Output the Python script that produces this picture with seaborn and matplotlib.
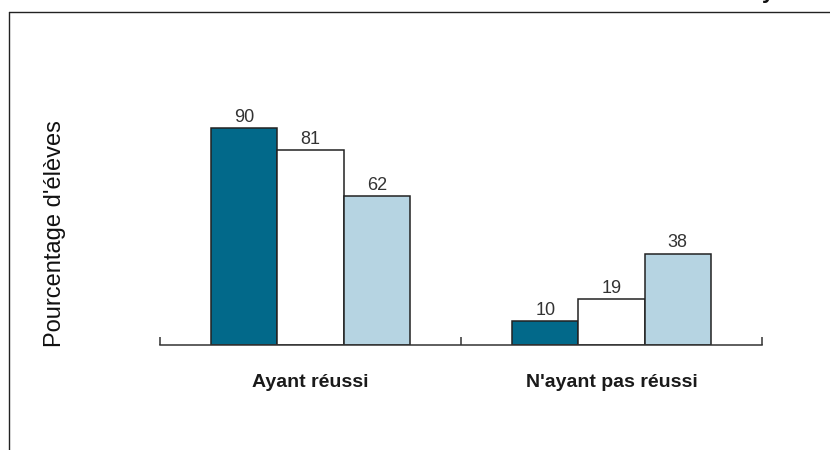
import matplotlib
matplotlib.use('Agg')
import matplotlib.pyplot as plt
from matplotlib.lines import Line2D
from matplotlib.ticker import FixedLocator
import pandas as pd
import seaborn as sns

# data
categories = ['Ayant réussi', "N'ayant pas réussi"]
series = ['Série 1', 'Série 2', 'Série 3']
serie_1 = [90, 10]
serie_2 = [81, 19]
serie_3 = [62, 38]
colors = ['#02698a', '#ffffff', '#b6d4e2']

rows = []
for s, vals in zip(series, [serie_1, serie_2, serie_3]):
    for c, v in zip(categories, vals):
        rows.append({'Catégorie': c, 'Série': s, 'Pourcentage': v})
df = pd.DataFrame(rows)

sns.set_style('white')
plt.rcParams['font.family'] = ['Liberation Sans', 'DejaVu Sans']

fig = plt.figure(figsize=[8.3, 4.5], dpi=100)
ax = fig.add_axes([160/830, 105/450, 602/830, 313/450])

sns.barplot(data=df, x='Catégorie', y='Pourcentage', hue='Série', order=categories,
            hue_order=series, palette=colors, width=0.66, edgecolor='#222222',
            linewidth=1.1, saturation=1, legend=False, ax=ax)

for cont in ax.containers:
    ax.bar_label(cont, fmt='{:.0f}', padding=1.5, fontsize=13, color='#333333')

ax.set_xlim(-0.5, 1.5)
ax.set_ylim(0, 130)
ax.set_yticks([])
ax.set_xlabel('')
ax.set_ylabel("Pourcentage d'élèves", fontsize=17, color='#111111', ha='center', va='center')
ax.yaxis.set_label_coords((55 - 160) / 602, (345 - 234) / 313)

for side in ['top', 'right', 'left']:
    ax.spines[side].set_visible(False)
ax.spines['bottom'].set_linewidth(1.1)
ax.spines['bottom'].set_color('#333333')

ax.tick_params(axis='x', which='major', length=0, pad=21, labelsize=14, labelcolor='#1a1a1a')
for lab in ax.get_xticklabels():
    lab.set_fontweight('bold')
ax.xaxis.set_minor_locator(FixedLocator([-0.5, 0.5, 1.5]))
ax.tick_params(axis='x', which='minor', direction='in', length=6, width=1.1, color='#333333', bottom=True)

# outer frame, cut by the image edges
fig.add_artist(Line2D([9/830, 1.0], [1 - 12/450, 1 - 12/450], color='#222222', lw=1.0))
fig.add_artist(Line2D([9/830, 9/830], [0.0, 1 - 12/450], color='#222222', lw=1.0))
# descender of a cut-off title letter at the top edge
fig.text(768/830, 1.0 + 1.5/450, 'y', ha='center', va='baseline', fontsize=16, fontweight='bold', color='#111111')

fig.savefig('out.png', dpi=100)
